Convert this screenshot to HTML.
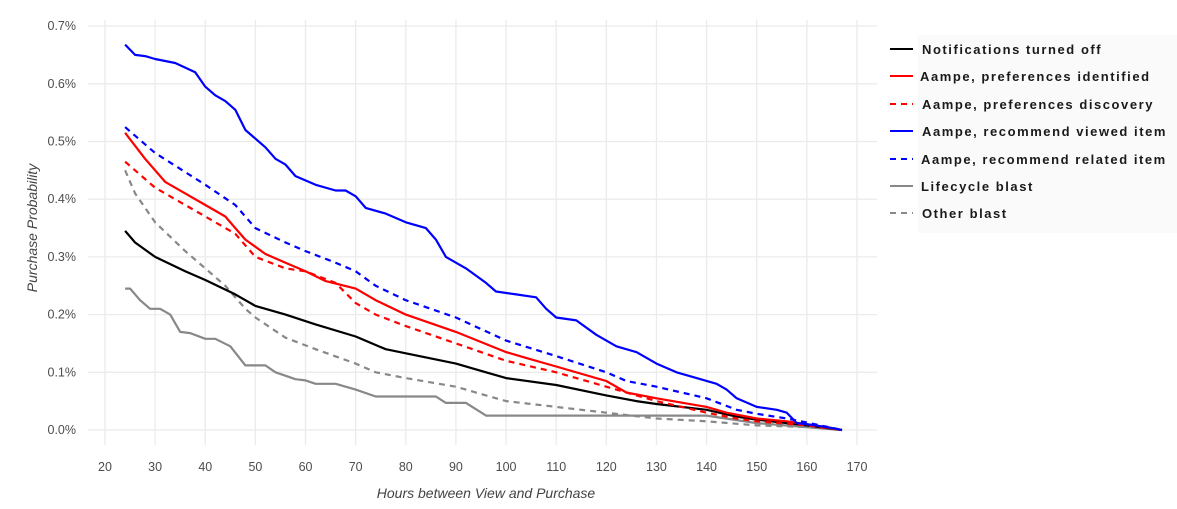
<!DOCTYPE html>
<html><head><meta charset="utf-8"><style>
html,body{margin:0;padding:0;background:#fff;}
svg{display:block;font-family:"Liberation Sans",sans-serif;}
</style></head><body>
<svg id="c" width="1177" height="509" viewBox="0 0 1177 509">
<rect x="918" y="35" width="259" height="198" fill="#fafafa"/>
<g id="grid" stroke="#ebebeb" stroke-width="1.3"></g>
<g id="lab" fill="#4d4d4d" font-size="12.5"></g>
<g id="series" fill="none" stroke-width="2.2" stroke-linejoin="round"></g>
<text x="486" y="498" text-anchor="middle" font-size="14" font-style="italic" fill="#444">Hours between View and Purchase</text>
<text transform="translate(37,228) rotate(-90)" text-anchor="middle" font-size="14" font-style="italic" fill="#444">Purchase Probability</text>
<g font-size="13" font-weight="bold" fill="#1a1a1a" letter-spacing="1.55">
<line x1="890" y1="49" x2="913" y2="49" stroke="#000" stroke-width="2"/><text x="922" y="54">Notifications turned off</text>
<line x1="890" y1="76" x2="913" y2="76" stroke="#f00" stroke-width="2"/><text x="920" y="81">Aampe, preferences identified</text>
<line x1="890" y1="104" x2="913" y2="104" stroke="#f00" stroke-width="2" stroke-dasharray="6,5"/><text x="922" y="109">Aampe, preferences discovery</text>
<line x1="890" y1="131" x2="913" y2="131" stroke="#00f" stroke-width="2"/><text x="922" y="136">Aampe, recommend viewed item</text>
<line x1="890" y1="159" x2="913" y2="159" stroke="#00f" stroke-width="2" stroke-dasharray="6,5"/><text x="921" y="164">Aampe, recommend related item</text>
<line x1="890" y1="186" x2="913" y2="186" stroke="#888" stroke-width="2"/><text x="921" y="191">Lifecycle blast</text>
<line x1="890" y1="213" x2="913" y2="213" stroke="#888" stroke-width="2" stroke-dasharray="6,5"/><text x="922" y="218">Other blast</text>
</g>
</svg>
<script>
var NS="http://www.w3.org/2000/svg";
function X(h){return 105+(h-20)*5.0133;}
function Y(v){return 430-v*577;}
function el(p,t,a,txt){var e=document.createElementNS(NS,t);for(var k in a)e.setAttribute(k,a[k]);if(txt!==undefined)e.textContent=txt;document.getElementById(p).appendChild(e);}
for(var h=20;h<=170;h+=10){el("grid","line",{x1:X(h),x2:X(h),y1:20,y2:445});el("lab","text",{x:X(h),y:471,"text-anchor":"middle"},h);}
for(var i=0;i<=7;i++){el("grid","line",{x1:88,x2:877,y1:Y(i/10),y2:Y(i/10)});el("lab","text",{x:76,y:Y(i/10)+4,"text-anchor":"end"},(i/10).toFixed(1)+"%");}
var S=[
["#888","6,5",[24,.45,26,.41,30,.36,36,.31,40,.28,44,.25,48,.21,50,.195,56,.16,62,.14,70,.115,74,.1,80,.09,90,.075,96,.06,100,.05,110,.04,120,.03,130,.02,140,.015,150,.008,160,.005,167,0]],
["#888","",[24,.245,25,.245,27,.225,29,.21,31,.21,33,.2,35,.17,37,.168,40,.158,42,.158,45,.145,48,.112,52,.112,54,.1,58,.088,60,.086,62,.08,66,.08,70,.07,74,.058,86,.058,88,.047,92,.047,96,.025,100,.025,120,.025,140,.025,150,.012,167,0]],
["#000","",[24,.345,26,.325,30,.3,36,.275,40,.26,46,.235,50,.215,56,.2,62,.183,70,.162,76,.14,80,.133,90,.115,96,.1,100,.09,110,.078,120,.06,126,.05,130,.045,140,.035,146,.023,150,.018,160,.008,167,0]],
["#f00","6,5",[24,.465,30,.42,40,.37,46,.34,50,.3,56,.28,60,.275,66,.255,70,.22,74,.2,80,.18,90,.15,100,.12,110,.1,120,.075,126,.06,130,.05,140,.03,146,.02,150,.015,160,.008,167,0]],
["#f00","",[24,.515,28,.47,32,.43,36,.41,40,.39,44,.37,46,.35,48,.33,52,.305,56,.29,60,.275,64,.258,70,.245,74,.225,80,.2,90,.17,100,.135,104,.125,110,.11,120,.085,124,.065,130,.055,140,.04,144,.03,150,.02,156,.015,160,.01,167,0]],
["#00f","6,5",[24,.525,30,.48,40,.425,46,.39,50,.35,56,.325,60,.31,66,.29,70,.275,74,.25,80,.225,90,.195,100,.155,110,.128,120,.1,124,.085,130,.075,140,.055,146,.035,150,.028,156,.02,160,.013,167,0]],
["#00f","",[24,.668,26,.65,28,.648,30,.643,34,.636,36,.628,38,.62,40,.595,42,.58,44,.57,46,.555,48,.52,52,.49,54,.47,56,.46,58,.44,62,.425,66,.415,68,.415,70,.405,72,.385,76,.375,80,.36,84,.35,86,.33,88,.3,92,.28,96,.255,98,.24,102,.235,106,.23,108,.21,110,.195,114,.19,118,.165,122,.145,126,.135,130,.115,134,.1,138,.09,142,.08,144,.07,146,.055,150,.04,154,.035,156,.03,158,.012,160,.01,164,.005,167,0]]
];
S.forEach(function(s){var d="";for(var i=0;i<s[2].length;i+=2)d+=(i?"L":"M")+X(s[2][i]).toFixed(1)+","+Y(s[2][i+1]).toFixed(1);var a={d:d,stroke:s[0]};if(s[1])a["stroke-dasharray"]=s[1];el("series","path",a);});
</script>
</body></html>
